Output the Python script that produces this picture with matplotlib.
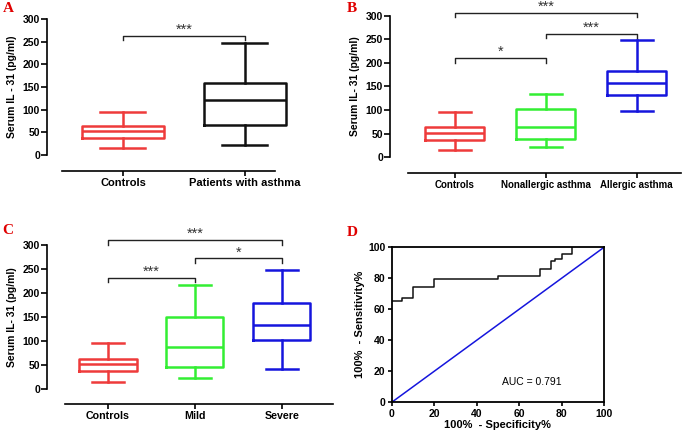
import numpy as np
import matplotlib
matplotlib.use('Agg')
import matplotlib.pyplot as plt

plt.rcParams['font.family'] = ['Liberation Sans', 'DejaVu Sans']
plt.rcParams['font.weight'] = 'bold'
plt.rcParams['axes.labelweight'] = 'bold'

# box stats: whisker low, q1, median, q3, whisker high
a_groups = ['Controls', 'Patients with asthma']
a_lo = [15, 22]
a_q1 = [38, 67]
a_med = [52, 122]
a_q3 = [63, 158]
a_hi = [95, 248]

b_groups = ['Controls', 'Nonallergic asthma', 'Allergic asthma']
b_lo = [15, 22, 97]
b_q1 = [37, 38, 131]
b_med = [52, 63, 158]
b_q3 = [63, 102, 184]
b_hi = [95, 133, 248]

c_groups = ['Controls', 'Mild', 'Severe']
c_lo = [15, 22, 42]
c_q1 = [37, 46, 102]
c_med = [52, 87, 133]
c_q3 = [63, 150, 180]
c_hi = [95, 216, 247]

# significance brackets: (from, to, height, label)
a_sig = [(0, 1, 262, '***')]
b_sig = [(0, 1, 210, '*'), (1, 2, 262, '***'), (0, 2, 307, '***')]
c_sig = [(0, 1, 232, '***'), (1, 2, 272, '*'), (0, 2, 310, '***')]

# ROC curve
roc_spec = [0, 5, 10, 20, 50, 70, 75, 77, 80, 85]
roc_sens = [65.5, 67.5, 74.5, 79.5, 81.8, 86.3, 90.9, 92.4, 95.5, 100]
auc = 0.791

RED = '#EE3B3B'
GREEN = '#33EE33'
BLUE = '#1515DD'
BLACK = '#111111'

W, H = 685, 443
fig = plt.figure(figsize=(6.85, 4.43), dpi=100)


def px_axes(x0, x1, ytop, ybot):
    return fig.add_axes([x0 / W, (H - ybot) / H, (x1 - x0) / W, (ybot - ytop) / H])


def box_panel(ax, groups, lo, q1, med, q3, hi, colors, sig, xlim, bounds, width, xfs, offset):
    stats = []
    for i in range(len(groups)):
        stats.append(dict(whislo=lo[i], q1=q1[i], med=med[i], q3=q3[i], whishi=hi[i]))
    pos = np.arange(len(groups))
    for i in range(len(groups)):
        c = colors[i]
        ax.bxp([stats[i]], positions=[pos[i]], widths=width, showfliers=False,
               capwidths=width * 0.55, manage_ticks=False,
               boxprops=dict(color=c, linewidth=1.8),
               medianprops=dict(color=c, linewidth=1.8),
               whiskerprops=dict(color=c, linewidth=1.8),
               capprops=dict(color=c, linewidth=1.8))
    for (i, j, h, lab) in sig:
        ax.plot([i, i, j, j], [h - 9, h, h, h - 9], color='#222222', lw=1.0, clip_on=False)
        ax.text((i + j) / 2, h - 2, lab, ha='center', va='bottom', fontsize=10.5,
                color='#333333', fontweight='normal')
    ax.set_xlim(*xlim)
    ax.set_ylim(0, 300)
    ax.set_yticks([0, 50, 100, 150, 200, 250, 300])
    ax.set_xticks(pos)
    ax.set_xticklabels(groups)
    ax.tick_params(axis='y', labelsize=7.5, length=4, width=1.2, pad=1)
    ax.tick_params(axis='x', labelsize=xfs, length=3.5, width=1.2, pad=1.5)
    ax.spines['top'].set_visible(False)
    ax.spines['right'].set_visible(False)
    ax.spines['left'].set_linewidth(1.2)
    ax.spines['bottom'].set_linewidth(1.2)
    ax.spines['left'].set_bounds(0, 300)
    ax.spines['bottom'].set_position(('outward', offset * 0.72))
    ax.spines['bottom'].set_bounds(*bounds)
    ax.patch.set_visible(False)


# Panel A
axA = px_axes(47, 290, 19, 155)
box_panel(axA, a_groups, a_lo, a_q1, a_med, a_q3, a_hi, [RED, BLACK], a_sig,
          (-0.623, 1.37), (-0.5, 1.25), 0.67, 8, 16)
axA.set_ylabel('Serum IL - 31 (pg/ml)', fontsize=7.5, labelpad=4)

# Panel B
axB = px_axes(390, 685, 16, 157)
box_panel(axB, b_groups, b_lo, b_q1, b_med, b_q3, b_hi, [RED, GREEN, BLUE], b_sig,
          (-0.714, 2.53), (-0.52, 2.49), 0.65, 7, 16)
axB.set_ylabel('Serum IL- 31 (pg/ml)', fontsize=7.5, labelpad=4)

# Panel C
axC = px_axes(47, 340, 245, 389)
box_panel(axC, c_groups, c_lo, c_q1, c_med, c_q3, c_hi, [RED, GREEN, BLUE], c_sig,
          (-0.70, 2.67), (-0.49, 2.59), 0.66, 7.7, 15)
axC.set_ylabel('Serum IL- 31 (pg/ml)', fontsize=7.5, labelpad=4)

# Panel D
axD = px_axes(391.7, 604, 247.3, 402.3)
axD.plot(roc_spec, roc_sens, drawstyle='steps-post', color=BLACK, lw=1.1)
axD.plot([0, 100], [0, 100], color=BLUE, lw=1.1)
axD.set_xlim(0, 100)
axD.set_ylim(0, 100)
axD.set_xticks(np.arange(0, 101, 20))
axD.set_yticks(np.arange(0, 101, 20))
axD.tick_params(labelsize=7.5, length=3, width=1.2, pad=1.5)
for s in axD.spines.values():
    s.set_linewidth(1.3)
axD.text(66, 13, 'AUC = %.3f' % auc, ha='center', va='center', fontsize=7.5,
         fontweight='normal')
axD.set_xlabel('100%  - Specificity%', fontsize=8, labelpad=1)
axD.set_ylabel('100%  - Sensitivity%', fontsize=8, labelpad=2)

# panel letters
for lab, x, y in [('A', 8, 8), ('B', 352, 8), ('C', 8, 230), ('D', 352, 232)]:
    fig.text(x / W, 1 - y / H, lab, color='#E00000', fontsize=11, fontweight='bold',
             family='Liberation Serif', ha='center', va='center')

fig.savefig('out.png', dpi=100)
